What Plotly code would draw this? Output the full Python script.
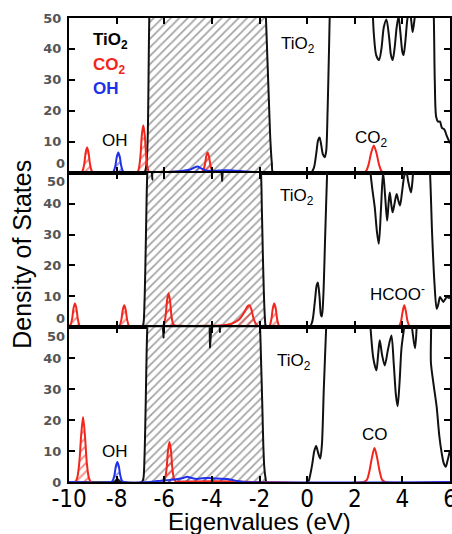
import plotly.graph_objects as go
from plotly.subplots import make_subplots

# ---------------- axes ----------------
e_range = [-10, 6]
dos_range = [0, 50]
x_ticks = [-10, -8, -6, -4, -2, 0, 2, 4, 6]
y_ticks = [0, 10, 20, 30, 40, 50]
fermi_level = -1.0  # states below this energy are occupied (hatched)

# ---------------- top panel: CO2 + OH on TiO2 (eV, states/eV) ----------------
tio2_co2 = [(-10, 0), (-6.85, 0), (-6.76, 2), (-6.7, 10), (-6.66, 30), (-6.63, 50), (-6.58, 60),
            (-1.8, 60), (-1.76, 55), (-1.72, 48), (-1.66, 35), (-1.6, 22), (-1.54, 10), (-1.48, 3), (-1.42, 0),
            (0.15, 0), (0.28, 1.5), (0.38, 6), (0.46, 10.5), (0.52, 11.4), (0.58, 9.5), (0.66, 6), (0.74, 5),
            (0.8, 7), (0.86, 20), (0.92, 40), (0.97, 55), (1.05, 62), (2.6, 62), (2.72, 56), (2.8, 45),
            (2.9, 38), (3.02, 36.4), (3.12, 40), (3.22, 47), (3.33, 49.5), (3.44, 44), (3.52, 38),
            (3.59, 36.4), (3.67, 40), (3.76, 47), (3.84, 50.5), (3.92, 45), (4.0, 39), (4.05, 38),
            (4.12, 42), (4.2, 49), (4.28, 53), (4.36, 50), (4.43, 45.5), (4.5, 49), (4.6, 56), (4.7, 62),
            (5.2, 62), (5.3, 55), (5.36, 30), (5.42, 18), (5.5, 16.5), (5.58, 16.5), (5.66, 14.5),
            (5.76, 14), (5.86, 12), (6.0, 9.5)]
co2_co2 = [(-10, 0), (-9.5, 0), (-9.43, 0.6), (-9.36, 2.8), (-9.3, 6.5), (-9.24, 8.1), (-9.18, 6.5),
           (-9.12, 2.8), (-9.05, 0.6), (-8.98, 0),
           (-7.14, 0), (-7.07, 1.2), (-7.0, 5.4), (-6.94, 12.2), (-6.88, 15.3), (-6.82, 12.2), (-6.76, 5.4),
           (-6.69, 1.2), (-6.62, 0), (-6.2, 0.2), (-5.4, 0.3), (-4.7, 0.2),
           (-4.44, 0.2), (-4.37, 0.7), (-4.3, 2.3), (-4.24, 5.2), (-4.18, 6.5), (-4.12, 5.2), (-4.06, 2.3),
           (-3.99, 0.7), (-3.92, 0.2), (-3.4, 0.3), (-2.6, 0.2), (-2.0, 0), (2.35, 0), (2.48, 0.6),
           (2.58, 2.6), (2.68, 6.1), (2.8, 8.8), (2.92, 6.1), (3.02, 2.6), (3.12, 0.6), (3.25, 0), (6.0, 0)]
oh_co2 = [(-10, 0), (-8.19, 0), (-8.12, 0.5), (-8.05, 2.3), (-7.99, 5.2), (-7.93, 6.5), (-7.87, 5.2),
          (-7.81, 2.3), (-7.74, 0.5), (-7.67, 0), (-6.0, 0), (-5.6, 0.4), (-5.2, 0.6), (-4.9, 1.0),
          (-4.75, 1.6), (-4.6, 2.0), (-4.45, 1.4), (-4.25, 0.7), (-3.9, 0.6), (-3.4, 0.8), (-3.0, 0.6),
          (-2.6, 0.4), (-2.2, 0.2), (-1.9, 0), (6.0, 0)]

# ---------------- middle panel: HCOO- on TiO2 ----------------
tio2_hcoo = [(-10, 0), (-6.95, 0), (-6.88, 1), (-6.83, 8), (-6.78, 25), (-6.74, 42), (-6.71, 50),
             (-6.66, 55), (-6.56, 55), (-6.5, 47.7), (-6.44, 55), (-3.63, 55), (-3.57, 47.4), (-3.51, 55),
             (-2.02, 55), (-1.94, 50), (-1.9, 38), (-1.86, 24), (-1.82, 12), (-1.78, 4), (-1.74, 0.5),
             (-1.68, 0), (0.1, 0), (0.22, 2), (0.32, 8), (0.4, 13.5), (0.45, 14.5), (0.52, 10), (0.58, 4),
             (0.62, 3.5), (0.68, 10), (0.76, 30), (0.84, 50), (0.9, 62), (2.55, 62), (2.66, 50),
             (2.75, 44), (2.84, 38.8), (2.93, 31), (3.01, 27), (3.1, 38), (3.19, 50.1), (3.28, 42),
             (3.36, 34.5), (3.42, 40), (3.47, 43.6), (3.53, 40), (3.59, 37.2), (3.67, 40), (3.76, 43.1),
             (3.83, 41), (3.9, 39.4), (3.99, 44), (4.08, 49), (4.16, 50.5), (4.25, 47), (4.36, 43.6),
             (4.42, 47), (4.5, 56), (4.6, 62), (5.05, 62), (5.16, 50), (5.25, 30), (5.35, 14), (5.44, 6),
             (5.51, 7.5), (5.58, 9.8), (5.65, 9), (5.72, 8.2), (5.79, 9), (5.86, 9.8), (5.93, 9.6),
             (6.0, 9.4)]
hcoo_hcoo = [(-10, 0.5), (-9.94, 0.8), (-9.87, 2.7), (-9.81, 6.2), (-9.75, 7.7), (-9.69, 6.2),
             (-9.63, 2.7), (-9.56, 0.6), (-9.49, 0), (-7.94, 0), (-7.87, 0.6), (-7.8, 2.5), (-7.74, 5.7),
             (-7.68, 7.1), (-7.62, 5.7), (-7.56, 2.5), (-7.49, 0.6), (-7.42, 0), (-6.08, 0), (-6.01, 0.9),
             (-5.94, 3.9), (-5.88, 8.8), (-5.82, 11), (-5.76, 8.8), (-5.7, 3.9), (-5.63, 1.2), (-5.56, 0.6),
             (-5.3, 0.5), (-4.8, 0.4), (-4.2, 0.5), (-3.7, 0.6), (-3.3, 0.9), (-3.05, 1.6), (-2.85, 2.6),
             (-2.72, 3.9), (-2.6, 5.4), (-2.5, 6.8), (-2.42, 7.1), (-2.34, 5.8), (-2.26, 3.2), (-2.16, 1.2),
             (-2.05, 0.3), (-1.9, 0.1), (-1.64, 0), (-1.57, 0.6), (-1.5, 2.7), (-1.44, 6.2), (-1.38, 7.7),
             (-1.32, 6.2), (-1.26, 2.7), (-1.19, 0.6), (-1.12, 0), (3.78, 0), (3.86, 0.4), (3.94, 1.9),
             (4.01, 5.0), (4.08, 7.1), (4.15, 5.0), (4.22, 1.9), (4.3, 0.4), (4.38, 0), (6.0, 0)]

# ---------------- bottom panel: CO + OH on TiO2 ----------------
tio2_co = [(-10, 0), (-8.2, 0), (-8.05, 0.3), (-7.97, 1.0), (-7.89, 0.3), (-7.75, 0), (-6.95, 0),
           (-6.88, 1), (-6.83, 8), (-6.78, 25), (-6.74, 42), (-6.71, 50), (-6.66, 55), (-6.09, 55),
           (-6.03, 46.7), (-5.97, 55), (-4.14, 55), (-4.08, 43.5), (-4.02, 55), (-3.71, 55),
           (-3.66, 48.5), (-3.61, 55), (-2.05, 55), (-1.98, 50), (-1.93, 38), (-1.88, 24), (-1.84, 12),
           (-1.8, 5), (-1.75, 1.5), (-1.7, 0), (0.03, 0), (0.12, 2), (0.22, 6), (0.3, 10), (0.38, 11.6),
           (0.46, 9.5), (0.55, 7.6), (0.62, 12), (0.7, 30), (0.8, 50), (0.86, 62), (2.55, 62),
           (2.66, 50), (2.78, 40), (2.91, 36.1), (2.98, 41), (3.05, 45.8), (3.15, 41), (3.26, 37.7),
           (3.4, 43), (3.54, 47.4), (3.64, 38), (3.73, 28), (3.8, 24.5), (3.88, 32), (3.96, 43),
           (4.04, 48), (4.12, 52), (4.25, 56), (4.4, 50), (4.53, 43.2), (4.62, 52), (4.75, 60),
           (5.1, 60), (5.2, 38.4), (5.32, 31), (5.44, 24.3), (5.55, 15), (5.65, 9.4), (5.74, 6),
           (5.82, 4.9), (5.9, 7), (6.0, 10.3)]
co_co = [(-10, 0), (-9.75, 0), (-9.66, 1.2), (-9.57, 6), (-9.49, 15), (-9.41, 21), (-9.33, 15),
         (-9.25, 6), (-9.16, 1.2), (-9.07, 0), (-6.04, 0), (-5.97, 1), (-5.9, 4.5), (-5.84, 10.3),
         (-5.78, 12.9), (-5.72, 10.3), (-5.66, 4.5), (-5.59, 1.0), (-5.52, 0.2), (-5.0, 0.2), (-3.0, 0.2),
         (-2.0, 0), (2.38, 0), (2.51, 0.7), (2.61, 3.3), (2.72, 7.8), (2.83, 11), (2.94, 7.8),
         (3.05, 3.3), (3.15, 0.7), (3.28, 0), (6.0, 0)]
oh_co = [(-10, 0), (-8.23, 0), (-8.16, 0.5), (-8.09, 2.3), (-8.03, 5.2), (-7.97, 6.5), (-7.91, 5.2),
         (-7.85, 2.3), (-7.78, 0.5), (-7.71, 0), (-6.6, 0), (-6.3, 0.3), (-5.9, 0.6), (-5.5, 0.9),
         (-5.2, 1.3), (-5.04, 1.7), (-4.85, 1.3), (-4.62, 1.0), (-4.4, 1.2), (-4.2, 1.3), (-3.8, 1.1),
         (-3.36, 1.0), (-3.1, 0.6), (-2.9, 0.3), (-2.6, 0), (6.0, 0)]

BLACK = "#111111"
RED = "#f2261c"
BLUE = "#2030e8"
GRAY_HATCH = "#4a4a4a"
CLEAR = "rgba(255,255,255,0.02)"

panels = [
    # (row, [(points, line colour, hatch colour, hatch background, hatch solidity)])
    (1, [(tio2_co2, BLACK, GRAY_HATCH, "white", 0.3), (co2_co2, RED, RED, CLEAR, 0.35),
         (oh_co2, BLUE, BLUE, CLEAR, 0.35)]),
    (2, [(tio2_hcoo, BLACK, GRAY_HATCH, "white", 0.3), (hcoo_hcoo, RED, RED, CLEAR, 0.35)]),
    (3, [(tio2_co, BLACK, GRAY_HATCH, "white", 0.3), (co_co, RED, RED, CLEAR, 0.35),
         (oh_co, BLUE, BLUE, CLEAR, 0.35)]),
]

fig = make_subplots(rows=3, cols=1, shared_xaxes=True, vertical_spacing=0)

for row, series in panels:
    # hatched occupied states first
    for pts, col, hatch, bg, solid in series:
        occ = [p for p in pts if p[0] <= fermi_level]
        fig.add_trace(go.Scatter(
            x=[p[0] for p in occ], y=[p[1] for p in occ], mode="lines",
            line=dict(width=0, shape="spline", smoothing=0.8, color=col),
            fill="tozeroy", fillcolor=bg,
            fillpattern=dict(shape="/", fgcolor=hatch, bgcolor=bg, size=6, solidity=solid),
            hoverinfo="skip", showlegend=False), row=row, col=1)
    # outlines on top
    for pts, col, hatch, bg, solid in series:
        fig.add_trace(go.Scatter(
            x=[p[0] for p in pts], y=[p[1] for p in pts], mode="lines",
            line=dict(width=2, shape="spline", smoothing=0.8, color=col),
            hoverinfo="skip", showlegend=False), row=row, col=1)

axis_common = dict(showline=True, linecolor="black", linewidth=2, mirror="ticks",
                   ticks="inside", ticklen=6, tickwidth=1.5, tickcolor="black",
                   showgrid=False, zeroline=False, automargin=False)

fig.update_xaxes(range=e_range, tickvals=x_ticks, ticktext=[str(v) for v in x_ticks],
                 tickfont=dict(family="Liberation Sans Narrow, DejaVu Sans Condensed, sans-serif",
                               size=24, color="black"),
                 ticklabelstandoff=-6, ticklabeloverflow="allow", **axis_common)

ytick_font = dict(family="DejaVu Sans", size=13, color="#555555", weight="bold")
y_text_top = ["", "10", "20", "30", "40", "50"]
y_text_mid = ["", "10", "20", "30", "40", ""]
y_text_bot = ["0", "10", "20", "30", "40", ""]
for row, txt in ((1, y_text_top), (2, y_text_mid), (3, y_text_bot)):
    fig.update_yaxes(range=dos_range, tickvals=y_ticks, ticktext=txt, tickfont=ytick_font,
                     ticklabelstandoff=3, row=row, col=1, **axis_common)

# boundary labels shared by neighbouring panels sit just above / below the frame line
overlay_labels = [
    ("yaxis4", "y4", "y", "x", 0, "outside top"),
    ("yaxis5", "y5", "y2", "x2", 0, "outside top"),
    ("yaxis6", "y6", "y2", "x2", 50, "outside bottom"),
    ("yaxis7", "y7", "y3", "x3", 50, "outside bottom"),
]
for name, ref, base, xref, val, pos in overlay_labels:
    fig.update_layout(**{name: dict(overlaying=base, anchor=xref, side="left", range=dos_range,
                                    tickvals=[val], ticktext=[str(val)], ticklabelposition=pos,
                                    tickfont=ytick_font, ticks="", showline=False, showgrid=False,
                                    zeroline=False, ticklabelstandoff=3, automargin=False)})
    fig.add_trace(go.Scatter(x=[None], y=[None], xaxis=xref, yaxis=ref, mode="lines",
                             hoverinfo="skip", showlegend=False))

label_font = "Liberation Sans, Arial, sans-serif"
notes = [
    # (text, x, y, yref, colour, bold)
    ("TiO<sub>2</sub>", -9.09, 42.5, "y", "black", True),
    ("CO<sub>2</sub>", -9.09, 34.4, "y", RED, True),
    ("OH", -9.09, 27.3, "y", BLUE, True),
    ("OH", -8.7, 10.5, "y", "black", False),
    ("TiO<sub>2</sub>", -1.18, 41.2, "y", "black", False),
    ("CO<sub>2</sub>", 1.93, 11.0, "y", "black", False),
    ("TiO<sub>2</sub>", -1.22, 42.2, "y2", "black", False),
    ("HCOO<sup>-</sup>", 2.56, 11.0, "y2", "black", False),
    ("TiO<sub>2</sub>", -1.35, 38.9, "y3", "black", False),
    ("CO", 2.22, 15.5, "y3", "black", False),
    ("OH", -8.7, 10.0, "y3", "black", False),
]
xref_of = {"y": "x", "y2": "x2", "y3": "x3"}
for text, x, y, yref, col, bold in notes:
    fig.add_annotation(text=text, x=x, y=y, xref=xref_of[yref], yref=yref,
                       xanchor="left", yanchor="middle", showarrow=False,
                       font=dict(family=label_font, size=17, color=col,
                                 weight="bold" if bold else "normal"))

fig.add_annotation(text="Eigenvalues (eV)", x=0.501, y=-0.086, xref="paper", yref="paper",
                   xanchor="center", yanchor="middle", showarrow=False,
                   font=dict(family=label_font, size=24, color="black"))
fig.add_annotation(text="Density of States", x=-0.123, y=0.49, xref="paper", yref="paper",
                   xanchor="center", yanchor="middle", textangle=-90, showarrow=False,
                   font=dict(family=label_font, size=25, color="black"))

fig.update_layout(width=452, height=534, margin=dict(l=69, r=2, t=18, b=52),
                  plot_bgcolor="white", paper_bgcolor="white", showlegend=False)

fig.write_html("out.html")
